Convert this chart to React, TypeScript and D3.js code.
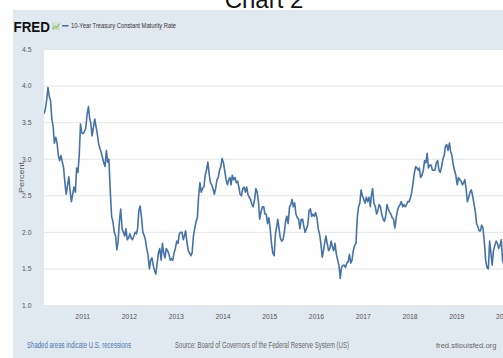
import React from 'react';
import * as d3 from 'd3';

const chartTitle = 'Chart 2';
const seriesName = '10-Year Treasury Constant Maturity Rate';
const yAxisTitle = 'Percent';
const yTicks = [1.0, 1.5, 2.0, 2.5, 3.0, 3.5, 4.0, 4.5];
const xTickYears = [2011, 2012, 2013, 2014, 2015, 2016, 2017, 2018, 2019, 2020];
const footLeft = 'Shaded areas indicate U.S. recessions';
const footSource = 'Source: Board of Governors of the Federal Reserve System (US)';
const footSite = 'fred.stlouisfed.org';

// three readings per month (around the 5th, 15th and 25th)
const v2010 = [3.62, 3.68, 3.80, 3.98, 3.86, 3.80, 3.55, 3.45, 3.22, 3.30, 3.22, 3.05, 2.98, 3.05, 2.97, 2.88, 2.68, 2.52, 2.65, 2.76, 2.56, 2.42, 2.52, 2.62, 2.55, 2.88, 2.82, 3.05, 3.48, 3.36];
const v2011 = [3.35, 3.38, 3.42, 3.62, 3.72, 3.55, 3.50, 3.32, 3.42, 3.55, 3.45, 3.35, 3.22, 3.15, 3.10, 3.02, 2.95, 2.90, 3.12, 2.96, 3.00, 2.55, 2.22, 2.15, 2.00, 1.95, 1.76, 1.88, 2.15, 2.32, 2.05, 2.00, 1.95, 2.05, 1.90, 1.92];
const v2012 = [1.98, 1.92, 1.90, 1.95, 2.00, 1.98, 2.05, 2.30, 2.36, 2.20, 2.00, 1.96, 1.90, 1.78, 1.70, 1.50, 1.62, 1.65, 1.55, 1.48, 1.43, 1.58, 1.72, 1.78, 1.62, 1.85, 1.72, 1.65, 1.78, 1.75, 1.70, 1.62, 1.64, 1.62, 1.72, 1.78];
const v2013 = [1.88, 1.85, 1.98, 2.00, 2.00, 1.90, 1.95, 2.02, 1.87, 1.75, 1.72, 1.68, 1.72, 1.95, 2.05, 2.15, 2.20, 2.50, 2.68, 2.55, 2.60, 2.62, 2.78, 2.85, 2.96, 2.80, 2.68, 2.65, 2.60, 2.52, 2.60, 2.72, 2.75, 2.85, 2.90, 3.01];
const v2014 = [2.95, 2.84, 2.72, 2.65, 2.72, 2.75, 2.65, 2.78, 2.72, 2.75, 2.68, 2.70, 2.62, 2.52, 2.50, 2.60, 2.62, 2.55, 2.62, 2.52, 2.48, 2.45, 2.38, 2.35, 2.45, 2.60, 2.55, 2.42, 2.18, 2.28, 2.35, 2.35, 2.25, 2.25, 2.12, 2.20];
const v2015 = [2.05, 1.85, 1.72, 1.68, 1.98, 2.08, 2.18, 2.05, 1.92, 1.88, 1.90, 2.00, 2.15, 2.22, 2.12, 2.35, 2.38, 2.45, 2.35, 2.40, 2.25, 2.20, 2.18, 2.05, 2.18, 2.18, 2.08, 2.00, 2.05, 2.10, 2.30, 2.32, 2.22, 2.25, 2.22, 2.27];
const v2016 = [2.20, 2.05, 1.98, 1.85, 1.66, 1.75, 1.85, 1.95, 1.85, 1.75, 1.78, 1.88, 1.80, 1.75, 1.85, 1.70, 1.62, 1.55, 1.37, 1.52, 1.55, 1.55, 1.52, 1.58, 1.60, 1.70, 1.58, 1.62, 1.75, 1.82, 1.85, 2.20, 2.35, 2.40, 2.58, 2.50];
const v2017 = [2.45, 2.40, 2.48, 2.42, 2.48, 2.35, 2.50, 2.60, 2.40, 2.35, 2.25, 2.30, 2.38, 2.35, 2.25, 2.18, 2.15, 2.22, 2.38, 2.32, 2.28, 2.25, 2.20, 2.18, 2.06, 2.20, 2.30, 2.35, 2.38, 2.42, 2.35, 2.38, 2.35, 2.38, 2.42, 2.42];
const v2018 = [2.48, 2.55, 2.68, 2.82, 2.90, 2.88, 2.85, 2.88, 2.75, 2.78, 2.85, 2.98, 2.95, 3.08, 2.88, 2.92, 2.92, 2.85, 2.85, 2.85, 2.95, 2.98, 2.85, 2.82, 2.90, 3.00, 3.05, 3.18, 3.20, 3.12, 3.22, 3.10, 3.05, 2.92, 2.85, 2.78];
const v2019 = [2.65, 2.75, 2.72, 2.70, 2.65, 2.68, 2.72, 2.60, 2.42, 2.48, 2.55, 2.58, 2.50, 2.40, 2.30, 2.12, 2.08, 2.02, 2.02, 2.10, 2.06, 1.86, 1.62, 1.52, 1.50, 1.88, 1.72, 1.55, 1.75, 1.82, 1.88, 1.85, 1.78, 1.82, 1.90, 1.62];
const v2020 = [1.55];

const yearBlocks: [number, number, number[]][] = [
  [2010, 2, v2010], [2011, 0, v2011], [2012, 0, v2012], [2013, 0, v2013], [2014, 0, v2014],
  [2015, 0, v2015], [2016, 0, v2016], [2017, 0, v2017], [2018, 0, v2018], [2019, 0, v2019], [2020, 0, v2020],
];
const days = [5, 15, 25];
const data = yearBlocks.flatMap(([yr, m0, vals]) =>
  vals.map((v, i) => ({ date: new Date(yr, m0 + Math.floor(i / 3), days[i % 3]), value: v }))
);

const W = 503, H = 358;
const panel = { x: 13, y: 10 };
const plot = { left: 44, right: 503, top: 49.5, bottom: 305.5 };
const FONT = '"Liberation Sans Narrow", "Arial Narrow", "Liberation Sans", Arial, sans-serif';

export default function App() {
  const x = d3.scaleTime().domain([new Date(2010, 0, 1), new Date(2020, 0, 1)]).range([35.95, 503.45]);
  const y = d3.scaleLinear().domain([1.0, 4.5]).range([plot.bottom, plot.top]);
  const line = d3.line<{ date: Date; value: number }>().x(d => x(d.date)).y(d => y(d.value)).curve(d3.curveLinear);

  return (
    <svg width={W} height={H} style={{ position: 'absolute', left: 0, top: 0, background: '#fff' }}>
      <defs>
        <clipPath id="plotclip">
          <rect x={plot.left} y={plot.top - 2} width={plot.right - plot.left} height={plot.bottom - plot.top + 4} />
        </clipPath>
        <linearGradient id="ico" x1="0" y1="1" x2="1" y2="0">
          <stop offset="0" stopColor="#b7d99a" />
          <stop offset="1" stopColor="#dfe9f3" />
        </linearGradient>
      </defs>
      <text x={264} y={8} textAnchor="middle" fontFamily="Liberation Sans, Arial, sans-serif" fontSize={24} fill="#111">{chartTitle}</text>
      <rect x={panel.x} y={panel.y} width={W - panel.x} height={H - panel.y} fill="#e1e9f0" />
      {/* header */}
      <text x={13.5} y={31.5} fontFamily={FONT} fontWeight="bold" fontSize={15} fill="#111" textLength={36.5} lengthAdjust="spacingAndGlyphs">FRED</text>
      <rect x={52} y={22} width={8} height={8} fill="url(#ico)" />
      <polyline points="52.5,29 55,26.5 57,27.5 59.5,23.5" fill="none" stroke="#6a9c48" strokeWidth={0.8} />
      <line x1={62} x2={68.5} y1={25.8} y2={25.8} stroke="#4572a7" strokeWidth={1.5} />
      <text x={71} y={28} fontFamily={FONT} fontSize={6.8} fill="#333" textLength={105} lengthAdjust="spacingAndGlyphs">{seriesName}</text>
      {/* plot area */}
      <rect x={plot.left} y={plot.top} width={plot.right - plot.left} height={plot.bottom - plot.top} fill="#ffffff" />
      {yTicks.map(t => (
        <line key={t} x1={plot.left} x2={plot.right} y1={y(t)} y2={y(t)} stroke="#e6e6e6" strokeWidth={1} />
      ))}
      {yTicks.map(t => (
        <text key={'l' + t} x={31.5} y={y(t) + 2.4} textAnchor="end" fontFamily={FONT} fontSize={6.8} fill="#555">{t.toFixed(1)}</text>
      ))}
      <text transform={`translate(24,177.5) rotate(-90)`} textAnchor="middle" fontFamily={FONT} fontSize={7.8} fill="#555" textLength={31} lengthAdjust="spacingAndGlyphs">{yAxisTitle}</text>
      {xTickYears.map(yr => (
        <text key={yr} x={x(new Date(yr, 0, 1))} y={319.3} textAnchor="middle" fontFamily={FONT} fontSize={6.8} fill="#555">{yr}</text>
      ))}
      <path d={line(data) || ''} fill="none" stroke="#4572a7" strokeWidth={1.6} strokeLinejoin="round" clipPath="url(#plotclip)" />
      {/* footer */}
      <text x={27} y={348} fontFamily={FONT} fontSize={8.5} fill="#4a74b0" textLength={104} lengthAdjust="spacingAndGlyphs">{footLeft}</text>
      <text x={175} y={348} fontFamily={FONT} fontSize={8.5} fill="#666" textLength={174} lengthAdjust="spacingAndGlyphs">{footSource}</text>
      <text x={436} y={348} fontFamily={FONT} fontSize={7.6} fill="#666">{footSite}</text>
    </svg>
  );
}
